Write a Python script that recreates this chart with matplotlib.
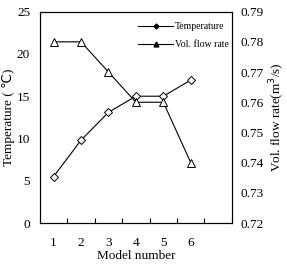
import matplotlib
matplotlib.use("Agg")
import matplotlib.pyplot as plt
from matplotlib.lines import Line2D

plt.rcParams['font.family'] = ['Liberation Serif', 'DejaVu Serif']

models = [1, 2, 3, 4, 5, 6]
temperature = [5.5, 9.8, 13.1, 15.0, 15.0, 16.9]
flow_rate = [0.78, 0.78, 0.77, 0.76, 0.76, 0.74]
temp_ticks = [0, 5, 10, 15, 20, 25]
flow_ticks = [0.72, 0.73, 0.74, 0.75, 0.76, 0.77, 0.78, 0.79]
tick_marks = [1.5, 2.5, 3.5, 4.5, 5.5, 6.5]


def main():
    fig = plt.figure(figsize=(2.87, 2.64), dpi=100)
    ax1 = fig.add_axes([0.139, 0.155, 0.669, 0.801])

    ax1.set_xlim(0.5, 7.5)
    ax1.set_ylim(0, 25)
    # tick marks sit between the models, labels sit under the points
    ax1.set_xticks(tick_marks, labels=[''] * len(tick_marks))
    ax1.set_xticks(models, labels=[str(m) for m in models], minor=True)
    ax1.tick_params(axis='x', which='major', direction='in', length=3.5,
                    width=0.8, color='black', bottom=True)
    ax1.tick_params(axis='x', which='minor', length=0, pad=10, labelsize=9.5)
    ax1.set_yticks(temp_ticks)
    ax1.tick_params(axis='y', length=0, pad=7, labelsize=9.5)

    ax2 = ax1.twinx()
    ax2.set_ylim(0.72, 0.79)

    ax1.plot(models, temperature, color='black', linewidth=0.8,
             marker='D', markersize=4.5, markerfacecolor='white',
             markeredgecolor='black', markeredgewidth=0.7)
    ax2.plot(models, flow_rate, color='black', linewidth=0.8,
             marker='^', markersize=5.5, markerfacecolor='white',
             markeredgecolor='black', markeredgewidth=0.7)

    ax2.set_yticks(flow_ticks)
    ax2.set_yticklabels([f"{v:.2f}" for v in flow_ticks])
    ax2.tick_params(axis='y', length=0, pad=6, labelsize=9.5)

    for ax in (ax1, ax2):
        for s in ax.spines.values():
            s.set_linewidth(0.8)

    ax1.set_xlabel('Model number', fontsize=9.5, labelpad=1)
    ax1.set_ylabel('Temperature ( \u2103)', fontsize=9.5, labelpad=1,
                   family=['Liberation Serif', 'DejaVu Sans'])
    ax2.set_ylabel('Vol. flow rate(m$^3$/s)', fontsize=9.5, labelpad=3)

    handles = [
        Line2D([], [], color='black', linewidth=0.8, marker='D',
               markersize=2.5, markerfacecolor='black'),
        Line2D([], [], color='black', linewidth=0.8, marker='^',
               markersize=3.5, markerfacecolor='black'),
    ]
    ax1.legend(handles, ['Temperature', 'Vol. flow rate'], loc='upper right',
               frameon=False, fontsize=7, handlelength=3.6,
               handletextpad=0.2, labelspacing=0.9,
               bbox_to_anchor=(1.03, 0.99))

    fig.savefig('out.png', dpi=100)


if __name__ == "__main__":
    main()
